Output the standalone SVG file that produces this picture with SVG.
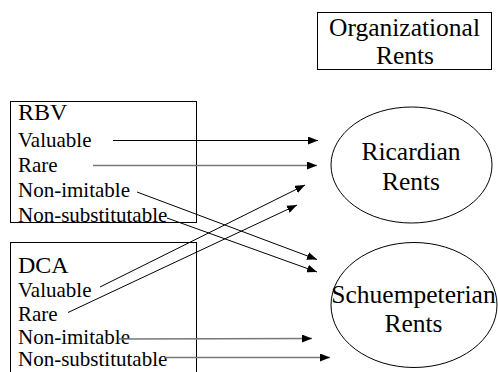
<svg xmlns="http://www.w3.org/2000/svg" width="498" height="372" viewBox="0 0 498 372">
<style>
.box{fill:none;stroke:#000;stroke-width:1}
.ell{fill:none;stroke:#000;stroke-width:1}
text{font-family:'Liberation Serif','DejaVu Serif','Times New Roman',Times,serif;fill:#000}
.hd{font-size:24px}
.it{font-size:21px}
.big{font-size:25.5px;text-anchor:middle}
.c{stroke:#000;stroke-width:1;fill:none;marker-end:url(#ah)}
.g{stroke:#777;stroke-width:1.6;fill:none;marker-end:url(#ah)}
</style>
<defs>
<marker id="ah" markerUnits="userSpaceOnUse" markerWidth="10" markerHeight="8" refX="10" refY="4" orient="auto">
<path d="M0,0 L10,4 L0,8 z" fill="#000"/>
</marker>
</defs>
<rect width="498" height="372" fill="#fff"/>
<g id="org" font-family="Liberation Serif, DejaVu Serif, serif">
<rect class="box" x="317.5" y="12.5" width="174" height="57"/>
<text class="big" x="404.5" y="36">Organizational</text>
<text class="big" x="405" y="64">Rents</text>
</g>
<g id="rbv" font-family="Liberation Serif, DejaVu Serif, serif">
<rect class="box" x="10.5" y="101.5" width="186" height="121"/>
<text class="hd" x="18" y="120">RBV</text>
<text class="it" x="18" y="147">Valuable</text>
<text class="it" x="18" y="172">Rare</text>
<text class="it" x="18" y="197">Non-imitable</text>
<text class="it" x="18" y="222">Non-substitutable</text>
</g>
<g id="dca" font-family="Liberation Serif, DejaVu Serif, serif">
<rect class="box" x="10.5" y="242.5" width="186" height="140"/>
<text class="hd" x="18" y="273">DCA</text>
<text class="it" x="18" y="297">Valuable</text>
<text class="it" x="18" y="320.5">Rare</text>
<text class="it" x="18" y="343.5">Non-imitable</text>
<text class="it" x="18" y="366">Non-substitutable</text>
</g>
<g id="ricardian" font-family="Liberation Serif, DejaVu Serif, serif">
<ellipse class="ell" cx="411.5" cy="165" rx="80.5" ry="58"/>
<text class="big" x="411" y="160">Ricardian</text>
<text class="big" x="411" y="190">Rents</text>
</g>
<g id="schumpeterian" font-family="Liberation Serif, DejaVu Serif, serif">
<ellipse class="ell" cx="414" cy="305" rx="83" ry="62.5"/>
<text class="big" x="413.5" y="303">Schuempeterian</text>
<text class="big" x="413.5" y="332">Rents</text>
</g>
<g id="connectors">
<line class="c" x1="113" y1="140.5" x2="318" y2="140.5"/>
<line class="g" x1="93" y1="165.5" x2="317" y2="165.5"/>
<line class="c" x1="137" y1="192" x2="317" y2="259.5"/>
<line class="c" x1="167" y1="218" x2="317" y2="272"/>
<line class="c" x1="100" y1="287" x2="305" y2="185"/>
<line class="c" x1="68" y1="312.5" x2="297" y2="205"/>
<line class="g" x1="118" y1="339" x2="312" y2="338.5"/>
<line class="g" x1="165" y1="357.5" x2="330" y2="357.5"/>
</g>
</svg>
